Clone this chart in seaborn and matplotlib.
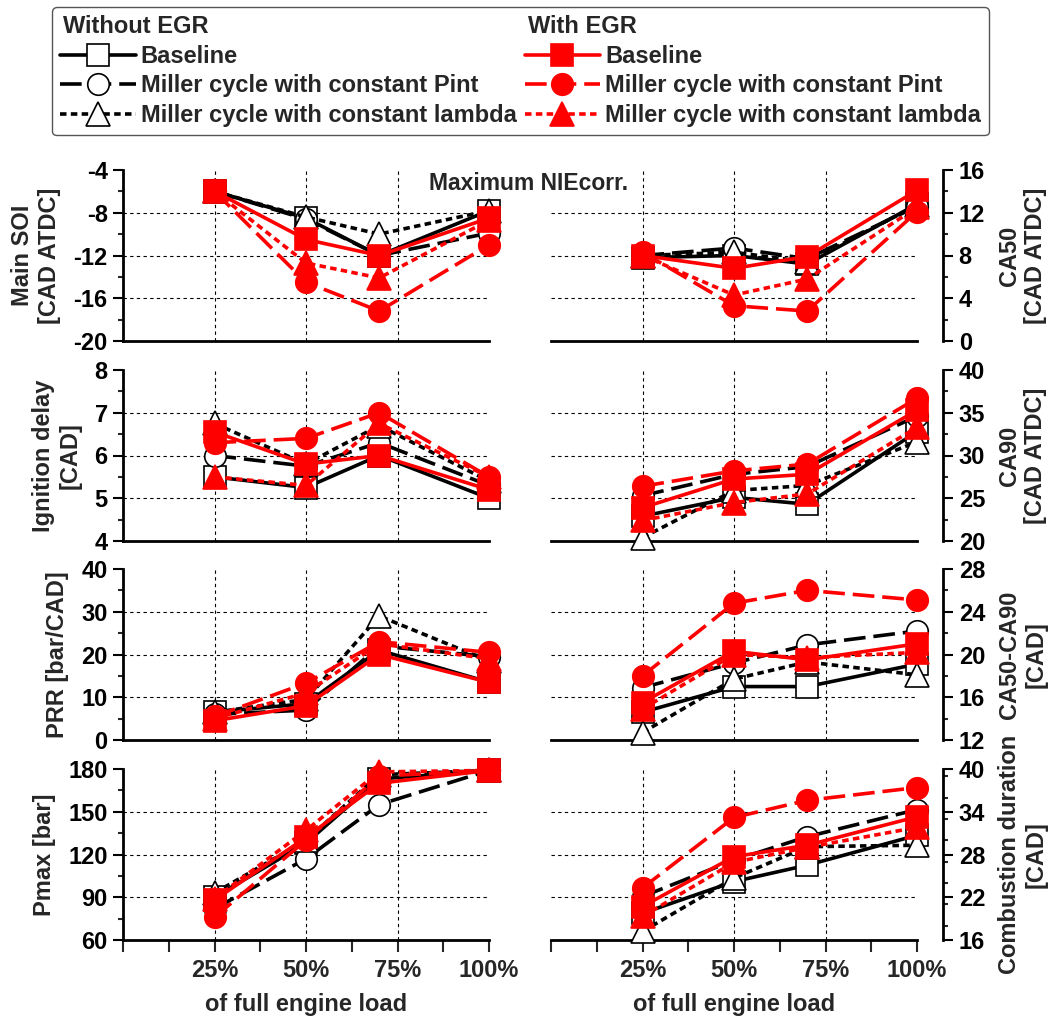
import seaborn as sns
import matplotlib.pyplot as plt
import pandas as pd
from matplotlib.lines import Line2D
from matplotlib.ticker import MultipleLocator

sns.set_theme(style="ticks")
plt.rcParams['font.family'] = ['Liberation Sans', 'DejaVu Sans']
plt.rcParams['font.weight'] = 'bold'
plt.rcParams['axes.labelweight'] = 'bold'
plt.rcParams['axes.unicode_minus'] = False

# x positions (% of full load) and axis labels
loads = [25, 50, 70, 100]
load_ticks = [25, 50, 75, 100]
load_labels = ["25%", "50%", "75%", "100%"]

series = ["noegr_base", "noegr_pint", "noegr_lambda", "egr_base", "egr_pint", "egr_lambda"]
series_labels = ["Baseline", "Miller cycle with constant Pint", "Miller cycle with constant lambda"] * 2
group_titles = ["Without EGR", "With EGR"]

# one row per series (order as above), values at 25/50/70/100 % load
main_soi = [
    [-6, -8.5, -12, -7.8],
    [-6, -8.6, -12, -9.9],
    [-6, -8.4, -10, -7.8],
    [-6, -10.5, -12, -8.5],
    [-6, -14.5, -17.2, -11],
    [-6, -12.7, -14.1, -8.7],
]
ca50 = [
    [7.8, 8.0, 7.2, 12.8],
    [8.0, 8.7, 7.7, 12.6],
    [8.0, 8.3, 7.4, 12.7],
    [8.0, 6.8, 7.9, 14.1],
    [8.3, 3.3, 2.8, 12.1],
    [8.0, 4.3, 5.8, 12.5],
]
ign_delay = [
    [5.5, 5.25, 6.0, 5.0],
    [6.0, 5.75, 6.3, 5.3],
    [6.75, 5.8, 6.7, 5.4],
    [6.55, 5.8, 6.0, 5.2],
    [6.3, 6.4, 7.0, 5.5],
    [5.5, 5.3, 6.75, 5.5],
]
ca90 = [
    [22.9, 25.1, 24.3, 32.8],
    [25.3, 27.8, 28.7, 34.6],
    [20.4, 25.9, 26.5, 31.6],
    [23.9, 27.25, 27.8, 35.3],
    [26.4, 28.2, 29.0, 36.7],
    [22.4, 24.5, 25.5, 33.3],
]
prr = [
    [6.5, 8.5, 21, 13.5],
    [6.0, 7.0, 22, 19.5],
    [6.5, 9.5, 29, 18.5],
    [4.5, 8.0, 20, 13.5],
    [5.5, 13.3, 23, 20.5],
    [5.0, 11.0, 22.5, 19.0],
]
ca50_ca90 = [
    [14.6, 17.0, 17.0, 19.1],
    [16.9, 19.2, 20.9, 22.2],
    [12.7, 17.7, 19.3, 18.1],
    [15.5, 20.3, 19.5, 21.0],
    [18.0, 24.8, 26.0, 25.1],
    [14.9, 20.0, 19.7, 20.2],
]
pmax = [
    [90, 128, 173, 179],
    [82, 117, 155, 179],
    [93, 130, 176, 179],
    [88, 132, 170, 179],
    [76, 130, 175, 179],
    [89, 137, 178, 179],
]
comb_dur = [
    [19.75, 24.2, 26.5, 30.7],
    [22.1, 27.2, 30.5, 34.3],
    [17.2, 24.7, 29.1, 29.3],
    [20.7, 27.7, 29.3, 33.3],
    [23.3, 33.2, 35.6, 37.4],
    [19.3, 26.9, 29.0, 31.8],
]

dashed = (0, (6, 2.2))
dotted = (0, (1.8, 1.2))
styles = [
    dict(color="black", linestyle="-", marker="s", markersize=16, markerfacecolor="white"),
    dict(color="black", linestyle=dashed, marker="o", markersize=15.5, markerfacecolor="white"),
    dict(color="black", linestyle=dotted, marker="^", markersize=17, markerfacecolor="white"),
    dict(color="red", linestyle="-", marker="s", markersize=16, markerfacecolor="red"),
    dict(color="red", linestyle=dashed, marker="o", markersize=15.5, markerfacecolor="red"),
    dict(color="red", linestyle=dotted, marker="^", markersize=17, markerfacecolor="red"),
]

# metric, label, ylim, major step, minor step, side, row
panels = [
    (main_soi, "Main SOI\n[CAD ATDC]", (-20, -4), 4, 2, "left", 0),
    (ca50, "CA50\n[CAD ATDC]", (0, 16), 4, 2, "right", 0),
    (ign_delay, "Ignition delay\n[CAD]", (4, 8), 1, 0.5, "left", 1),
    (ca90, "CA90\n[CAD ATDC]", (20, 40), 5, 2.5, "right", 1),
    (prr, "PRR [bar/CAD]", (0, 40), 10, 5, "left", 2),
    (ca50_ca90, "CA50-CA90\n[CAD]", (12, 28), 4, 2, "right", 2),
    (pmax, "Pmax [bar]", (60, 180), 30, 15, "left", 3),
    (comb_dur, "Combustion duration\n[CAD]", (16, 40), 6, 3, "right", 3),
]

W, H = 1057, 1016
fig = plt.figure(figsize=(W / 100, H / 100), dpi=100)
row_tops = [170, 370, 569, 769]
row_h = 171

for values, label, (lo, hi), major, minor, side, row in panels:
    x0 = 123 if side == "left" else 551
    ax = fig.add_axes([x0 / W, 1 - (row_tops[row] + row_h) / H, 366 / W, row_h / H])

    df = pd.DataFrame([
        {"load": l, "value": v, "series": s}
        for s, vals in zip(series, values) for l, v in zip(loads, vals)
    ])
    for s, st in zip(series, styles):
        sns.lineplot(data=df[df["series"] == s], x="load", y="value", ax=ax,
                     errorbar=None, legend=False, linewidth=2.6, clip_on=False,
                     markeredgecolor=st["color"] if st["color"] == "red" else "black",
                     markeredgewidth=1.2, zorder=3, **st)

    ax.set_xlim(0, 100)
    ax.set_ylim(lo, hi)
    yt = [lo + major * i for i in range(int(round((hi - lo) / major)) + 1)]
    ax.set_yticks(yt)
    ax.yaxis.set_minor_locator(MultipleLocator(minor))
    ax.set_xticks(load_ticks)
    ax.xaxis.set_minor_locator(MultipleLocator(12.5))

    for v in yt[1:-1]:
        ax.axhline(v, color="black", lw=0.8, ls=(0, (3, 3)), zorder=1)
    for v in load_ticks[:-1]:
        ax.axvline(v, color="black", lw=0.8, ls=(0, (3, 3)), zorder=1)

    for sp in ax.spines.values():
        sp.set_linewidth(2)
        sp.set_color("black")
    ax.spines["top"].set_visible(False)
    if side == "left":
        ax.spines["right"].set_visible(False)
    else:
        ax.spines["left"].set_visible(False)
        ax.spines["right"].set_position(("outward", 19))
        ax.yaxis.tick_right()
        ax.yaxis.set_label_position("right")

    ax.tick_params(axis="y", which="major", length=7, width=1.5, pad=4, labelsize=17, colors="black")
    ax.tick_params(axis="y", which="minor", length=3.5, width=1.5)
    if row == 3:
        ax.set_xticklabels(load_labels)
        ax.tick_params(axis="x", which="both", length=8.5, width=1.5, pad=5, labelsize=17)
        ax.set_xlabel("of full engine load", fontsize=17, labelpad=8)
    else:
        ax.tick_params(axis="x", which="both", length=0, labelbottom=False)
        ax.set_xlabel("")
    ax.set_ylabel(label, fontsize=17, labelpad=9)
    ax.set_facecolor("none")

fig.text(529 / W, 1 - 184 / H, "Maximum NIEcorr.", ha="center", va="center", fontsize=16.5, weight="bold")

# legend: group title rows get an empty handle, their text is moved flush left
handle_len, text_pad, leg_size = 3.2, 0.2, 17
blank = Line2D([], [], color="none")
handles, labels = [], []
for i, st in enumerate(styles):
    if i % 3 == 0:
        handles.append(blank)
        labels.append(group_titles[i // 3])
    handles.append(Line2D([], [], linewidth=2.6,
                          markeredgecolor=st["color"] if st["color"] == "red" else "black",
                          markeredgewidth=1.2, **st))
    labels.append(series_labels[i])
leg = fig.legend(handles, labels, ncol=2, loc="upper left", bbox_to_anchor=(52 / W, 1 - 7 / H),
                 prop={"weight": "bold", "size": leg_size}, handlelength=handle_len,
                 handletextpad=text_pad, columnspacing=0.35, labelspacing=0.28, borderpad=0.35,
                 borderaxespad=0, frameon=True, fancybox=True, edgecolor="#555555", framealpha=1)
leg.get_frame().set_linewidth(1)
shift = (handle_len + text_pad) * leg_size * fig.dpi / 72 - 3
for idx in (0, 4):
    leg.get_texts()[idx].set_position((-shift, 0))

fig.savefig("out.png", dpi=100)
